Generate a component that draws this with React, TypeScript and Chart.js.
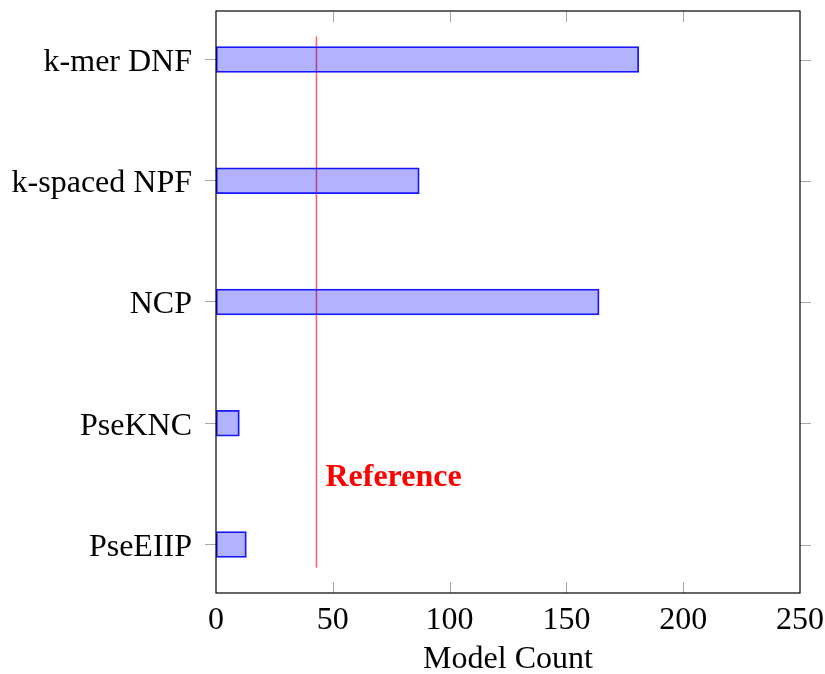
import React, { useEffect, useRef } from "react";
import { Chart, registerables } from "chart.js";

Chart.register(...registerables);

// Feature encodings, listed top to bottom
const categories = ["k-mer DNF", "k-spaced NPF", "NCP", "PseKNC", "PseEIIP"];
const modelCounts = [181, 87, 164, 10, 13];
const referenceValue = 43;
const referenceLabel = "Reference";
const xTickValues = [0, 50, 100, 150, 200, 250];
const axisTitle = "Model Count";

const FONT = '"Liberation Serif", "Times New Roman", serif';
const FONT_SIZE = 32;

const frameAndTicks = {
  id: "frameAndTicks",
  afterDatasetsDraw(chart: any) {
    const { ctx, chartArea } = chart;
    const xs = chart.scales.x;
    const ys = chart.scales.y;
    const { left, right, top, bottom } = chartArea;
    ctx.save();
    // inward ticks on bottom and top edges
    ctx.strokeStyle = "#a6a6a6";
    ctx.lineWidth = 1;
    for (const v of xTickValues) {
      const px = Math.round(xs.getPixelForValue(v)) + 0.5;
      if (px <= left + 1 || px >= right - 1) continue;
      ctx.beginPath();
      ctx.moveTo(px, bottom);
      ctx.lineTo(px, bottom - 11);
      ctx.moveTo(px, top);
      ctx.lineTo(px, top + 11);
      ctx.stroke();
    }
    // outward ticks on right edge at each category
    categories.forEach((_, i) => {
      const py = Math.round(ys.getPixelForValue(i)) + 0.5;
      ctx.beginPath();
      ctx.moveTo(right, py);
      ctx.lineTo(right + 11, py);
      ctx.stroke();
    });
    // frame
    ctx.strokeStyle = "#000";
    ctx.lineWidth = 1.2;
    ctx.strokeRect(left, top, right - left, bottom - top);
    // reference label
    ctx.fillStyle = "#ff0000";
    ctx.font = `bold ${FONT_SIZE}px ${FONT}`;
    ctx.textBaseline = "middle";
    ctx.textAlign = "left";
    ctx.fillText(referenceLabel, xs.getPixelForValue(referenceValue) + 9, ys.getPixelForValue(3.45));
    ctx.restore();
  },
};

export default function App() {
  const canvasRef = useRef<HTMLCanvasElement | null>(null);

  useEffect(() => {
    const canvas = canvasRef.current;
    if (!canvas) return;
    const chart = new Chart(canvas, {
      type: "bar",
      data: {
        datasets: [
          {
            type: "bar",
            data: modelCounts.map((v, i) => ({ x: v, y: i })),
            backgroundColor: "rgba(0,0,255,0.3)",
            borderColor: "#1a1aff",
            borderWidth: 1.2,
            barThickness: 26,
            borderSkipped: false,
          } as any,
          {
            type: "line",
            data: [
              { x: referenceValue, y: -0.19 },
              { x: referenceValue, y: 4.19 },
            ],
            borderColor: "#ff5f5f",
            borderWidth: 1.5,
            pointRadius: 0,
            fill: false,
          } as any,
        ],
      },
      options: {
        indexAxis: "y",
        animation: false,
        responsive: false,
        maintainAspectRatio: false,
        layout: { padding: { top: 11, right: 25, left: 0, bottom: 0 } },
        plugins: { legend: { display: false }, tooltip: { enabled: false } },
        scales: {
          x: {
            type: "linear",
            position: "bottom",
            min: 0,
            max: 250,
            offset: false,
            afterBuildTicks: (scale: any) => {
              scale.ticks = xTickValues.map((v) => ({ value: v }));
            },
            afterFit: (scale: any) => {
              scale.height = 81;
              scale.paddingLeft = 0;
              scale.paddingRight = 0;
            },
            grid: { display: false, drawTicks: false, offset: false },
            border: { display: false },
            ticks: {
              color: "#000",
              padding: 8,
              font: { family: FONT, size: FONT_SIZE },
              maxRotation: 0,
            },
            title: {
              display: true,
              text: axisTitle,
              color: "#000",
              font: { family: FONT, size: FONT_SIZE, lineHeight: 0.9 },
              padding: { top: 0, bottom: 0 },
            },
          },
          y: {
            type: "linear",
            position: "left",
            min: -0.4,
            max: 4.4,
            reverse: true,
            offset: false,
            afterBuildTicks: (scale: any) => {
              scale.ticks = categories.map((_, i) => ({ value: i }));
            },
            afterFit: (scale: any) => {
              scale.width = 216;
              scale.paddingTop = 0;
              scale.paddingBottom = 0;
            },
            grid: {
              display: true,
              drawOnChartArea: false,
              drawTicks: true,
              tickLength: 11,
              offset: false,
              color: "#a6a6a6",
            },
            border: { display: false },
            ticks: {
              color: "#000",
              padding: 13,
              labelOffset: 3,
              font: { family: FONT, size: FONT_SIZE },
              callback: (v: any) => categories[v as number] ?? "",
            },
          },
        },
      } as any,
      plugins: [frameAndTicks],
    });
    return () => chart.destroy();
  }, []);

  return (
    <div style={{ position: "fixed", left: 0, top: 0, width: 825, height: 674, background: "#fff" }}>
      <canvas ref={canvasRef} width={825} height={674} style={{ width: 825, height: 674 }} />
    </div>
  );
}
